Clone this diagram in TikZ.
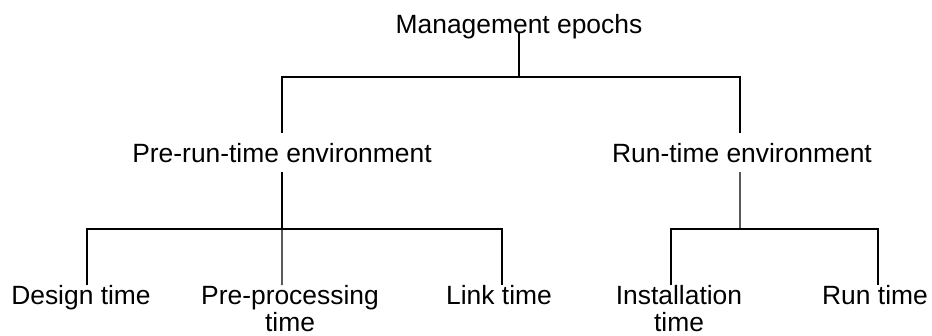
\documentclass[tikz,border=0pt]{standalone}
\usepackage{fontspec}
\setmainfont{Liberation Sans}

\begin{document}
\begin{tikzpicture}[x=1bp,y=-1bp,
    epoch/.style={font=\fontsize{26.5}{27}\selectfont,inner xsep=0pt},
    envnode/.style={epoch,anchor=base,text height=19bp,text depth=0bp,inner ysep=10bp},
    leaf/.style={epoch,align=center,anchor=north,inner ysep=0pt},
    tree/.style={line width=1.3bp}]
  \fill[color=white] (0,0) rectangle (932,335);
  \useasboundingbox (0,0) rectangle (932,335);
  \node[epoch,anchor=base] (mgmt) at (519,33) {Management epochs};
  \node[envnode] (prerun) at (282,162) {Pre-run-time environment};
  \node[envnode] (runenv) at (742,162) {Run-time environment};
  \node[leaf] (design) at (81,285) {Design time};
  \node[leaf] (preproc) at (290,285) {Pre-processing\\time};
  \node[leaf] (link) at (499,285) {Link time};
  \node[leaf] (install) at (679,285) {Installation\\time};
  \node[leaf] (runtime) at (875,285) {Run time};
  \coordinate (topbus) at (519,77);
  \coordinate (prebus) at (282,229);
  \coordinate (runbus) at (740,229);
  \draw[tree] (mgmt.base) -- (topbus);
  \draw[tree] (prerun.north) |- (topbus) -| ([xshift=-2bp]runenv.north);
  \draw[tree] (prerun.south) -- (prebus);
  \draw[tree] ([xshift=6bp]design.north) |- (prebus) -| ([xshift=3bp]link.north);
  \draw[tree] (prebus) -- ([xshift=-8bp]preproc.north);
  \draw[tree] ([xshift=-2bp]runenv.south) -- (runbus);
  \draw[tree] ([xshift=-8bp]install.north) |- (runbus) -| ([xshift=3bp]runtime.north);
\end{tikzpicture}
\end{document}
